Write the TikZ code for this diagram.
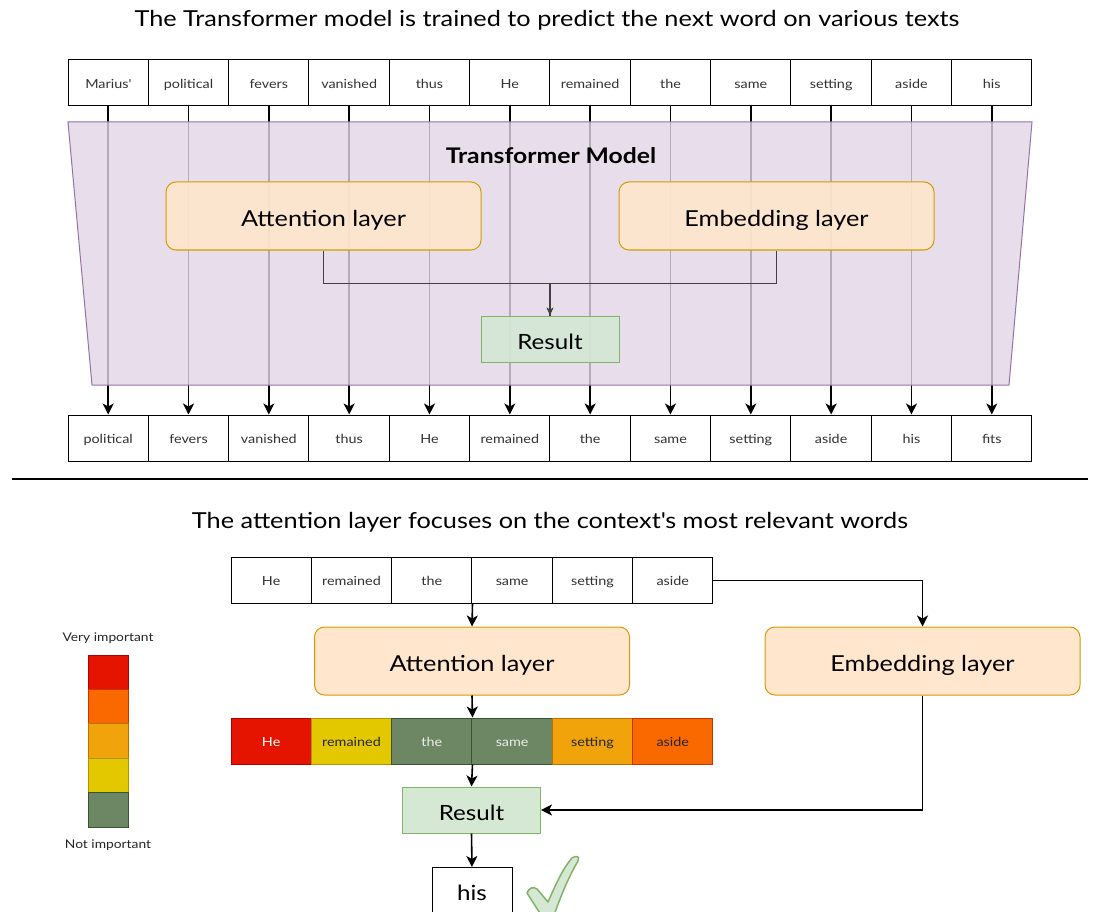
\documentclass[tikz,border=0pt]{standalone}
\usepackage{fontspec}
\setmainfont{Lato}[FakeStretch=1.15]
\usetikzlibrary{arrows.meta}
\definecolor{purfill}{HTML}{E1D5E7}
\definecolor{purline}{HTML}{9673A6}
\definecolor{orfill}{HTML}{FFE6CC}
\definecolor{orline}{HTML}{D79B00}
\definecolor{grfill}{HTML}{D5E8D4}
\definecolor{grline}{HTML}{82B366}
\definecolor{cRed}{HTML}{E51400}\definecolor{cRedL}{HTML}{B20000}
\definecolor{cOr}{HTML}{FA6800}\definecolor{cOrL}{HTML}{C73500}
\definecolor{cAm}{HTML}{F0A30A}\definecolor{cAmL}{HTML}{BD7000}
\definecolor{cYe}{HTML}{E3C800}\definecolor{cYeL}{HTML}{B09500}
\definecolor{cGr}{HTML}{6D8764}\definecolor{cGrL}{HTML}{3A5431}
\begin{document}
\begin{tikzpicture}[x=1pt,y=-1pt,
  word/.style={draw=black, line width=1pt, fill=white, minimum width=80.33pt, minimum height=46pt, inner sep=0pt, text height=10.6pt, text depth=0pt, font=\fontsize{12.5}{15}\selectfont, text=black!80},
  cell/.style={line width=1pt, minimum width=80.33pt, minimum height=46pt, inner sep=0pt, text height=10.6pt, text depth=0pt, font=\fontsize{12.5}{15}\selectfont},
  layer/.style={draw=orline, fill=orfill, rounded corners=10pt, line width=1pt, minimum width=315pt, minimum height=68pt, inner sep=0pt, text height=21pt, text depth=0pt, font=\fontsize{22}{26}\selectfont},
  result/.style={draw=grline, fill=grfill, line width=1pt, minimum width=138pt, minimum height=46pt, inner sep=0pt, text height=20pt, text depth=0pt, font=\fontsize{21}{25}\selectfont},
  arr/.style={-{Stealth[length=11pt,width=11pt,inset=3pt]}, line width=1.6pt},
  thinarr/.style={-{Stealth[length=8pt,width=7pt,inset=2pt]}, line width=1.2pt, draw=black!75},
  title/.style={font=\fontsize{22}{26}\selectfont, inner sep=0pt},
  legtext/.style={font=\fontsize{12}{14}\selectfont, inner sep=0pt, text=black!85},
  legcell/.style={line width=1pt, minimum width=40pt, minimum height=34.4pt, inner sep=0pt}]
\useasboundingbox (0,0) rectangle (1095,912);
\fill[white] (0,0) rectangle (1095,912);

% ---------- top section ----------
\node[title] (title1) at (547,20.5) {The Transformer model is trained to predict the next word on various texts};

\foreach \w [count=\i] in {Marius\textquotesingle, political, fevers, vanished, thus, He, remained, the, same, setting, aside, his}
  \node[word] (t\i) at ({68+80.33*(\i-0.5)},83) {\w};
\foreach \w [count=\i] in {political, fevers, vanished, thus, He, remained, the, same, setting, aside, his, fits}
  \node[word] (b\i) at ({68+80.33*(\i-0.5)},438) {\w};
\foreach \i in {1,...,12}
  \draw[arr] (t\i.south) -- (b\i.north);

\path[fill=purfill, fill opacity=0.8, draw=purline, line width=1pt] (68,122) -- (1032,122) -- (1009,385) -- (92,385) -- cycle;
\node[font=\fontsize{21.5}{25}\selectfont\bfseries, inner sep=0pt] (tm) at (551,155.5) {Transformer Model};

\node[layer, fill opacity=0.9, text opacity=1] (att1) at (323.5,216) {Attention layer};
\node[layer, fill opacity=0.9, text opacity=1] (emb1) at (776.5,216) {Embedding layer};
\node[result, fill opacity=0.9, text opacity=1] (res1) at (550,339) {Result};
\draw[thinarr] (att1.south) -- ++(0,33) -| (res1.north);
\draw[line width=1.2pt, draw=black!75] (emb1.south) -- ++(0,33) -| (res1.north);

% separator
\coordinate (sepL) at (12,479);
\coordinate (sepR) at (1088,479);
\draw[line width=2pt] (sepL) -- (sepR);

% ---------- bottom section ----------
\node[title] (title2) at (550,522.5) {The attention layer focuses on the context\textquotesingle s most relevant words};

\foreach \w [count=\i] in {He, remained, the, same, setting, aside}
  \node[word] (w\i) at ({231+80.33*(\i-0.5)},580.5) {\w};

\node[layer] (att2) at (472,661) {Attention layer};
\node[layer] (emb2) at (922.5,661) {Embedding layer};

\node[cell, fill=cRed, draw=cRedL, text=white] (c1) at ({231+80.33*0.5},741) {He};
\node[cell, fill=cYe, draw=cYeL, text=black!85] (c2) at ({231+80.33*1.5},741) {remained};
\node[cell, fill=cGr, draw=cGrL, text=white!85!cGr] (c3) at ({231+80.33*2.5},741) {the};
\node[cell, fill=cGr, draw=cGrL, text=white!85!cGr] (c4) at ({231+80.33*3.5},741) {same};
\node[cell, fill=cAm, draw=cAmL, text=black!85] (c5) at ({231+80.33*4.5},741) {setting};
\node[cell, fill=cOr, draw=cOrL, text=black!85] (c6) at ({231+80.33*5.5},741) {aside};

\node[result] (res2) at (471.5,810) {Result};
\node[draw=black, line width=1pt, fill=white, minimum width=80pt, minimum height=52pt, inner sep=0pt, text height=14pt, text depth=0pt, font=\fontsize{21}{25}\selectfont, anchor=north] (his) at (472,867) {his};

\draw[arr] (w3.south east) -- (att2.north);
\draw[arr] (att2.south) -- (c3.north east);
\draw[arr] (c3.south east) -- (res2.north);
\draw[arr] (res2.south) -- (his.north);
\draw[arr] (w6.east) -| (emb2.north);
\draw[arr] (emb2.south) |- (res2.east);

% check mark
\path[fill=grfill, draw=grline, line width=1.5pt, line join=round]
  (527,893) .. controls (529,888) and (533,886) .. (537,889)
  -- (548,902)
  .. controls (556,884) and (563,868) .. (572,858)
  .. controls (576,855) and (580,856) .. (578,861)
  .. controls (568,878) and (560,898) .. (553,918)
  -- (543,918) -- cycle;

% legend
\node[legtext] (vi) at (108,638) {Very important};
\node[legcell, fill=cRed, draw=cRedL] (l1) at (108,672.2) {};
\node[legcell, fill=cOr, draw=cOrL] (l2) at (108,706.6) {};
\node[legcell, fill=cAm, draw=cAmL] (l3) at (108,741) {};
\node[legcell, fill=cYe, draw=cYeL] (l4) at (108,775.4) {};
\node[legcell, fill=cGr, draw=cGrL] (l5) at (108,809.8) {};
\node[legtext] (ni) at (108,845) {Not important};
\end{tikzpicture}
\end{document}
